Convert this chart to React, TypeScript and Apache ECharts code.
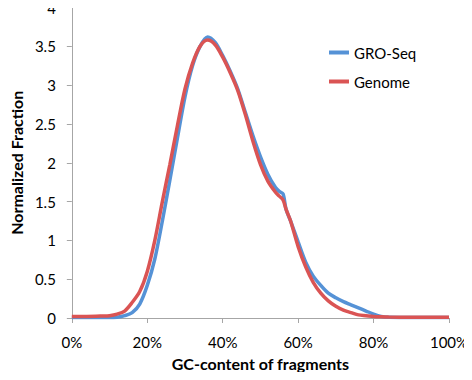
import React, { useEffect, useRef } from "react";
import * as echarts from "echarts";

const gcPct = [0, 4, 8, 10, 12, 14, 16, 18, 20, 22, 24, 26, 28, 30, 32, 34, 36, 38, 40, 42, 44, 46, 48, 50, 52, 54, 55, 56, 56.8, 58, 60, 62, 64, 66, 68, 70, 72, 74, 76, 78, 80, 82, 84, 90, 100];
const groSeq = [0.005, 0.005, 0.005, 0.005, 0.01, 0.03, 0.07, 0.18, 0.42, 0.76, 1.25, 1.78, 2.32, 2.85, 3.25, 3.5, 3.62, 3.55, 3.38, 3.18, 2.95, 2.65, 2.35, 2.08, 1.85, 1.68, 1.63, 1.6, 1.4, 1.25, 0.98, 0.72, 0.54, 0.42, 0.32, 0.26, 0.21, 0.17, 0.13, 0.09, 0.05, 0.02, 0.01, 0.005, 0.005];
const genome = [0.02, 0.02, 0.025, 0.03, 0.05, 0.09, 0.2, 0.34, 0.6, 1.0, 1.5, 1.98, 2.48, 2.95, 3.28, 3.5, 3.58, 3.52, 3.36, 3.16, 2.93, 2.62, 2.28, 1.98, 1.76, 1.62, 1.57, 1.52, 1.4, 1.25, 0.92, 0.66, 0.46, 0.32, 0.22, 0.15, 0.1, 0.07, 0.04, 0.03, 0.02, 0.015, 0.012, 0.01, 0.01];

const seriesNames = ["GRO-Seq", "Genome"];
const xTitle = "GC-content of fragments";
const yTitle = "Normalized Fraction";

const FONT = "Lato";

export default function App() {
  const ref = useRef<HTMLDivElement>(null);
  useEffect(() => {
    if (!ref.current) return;
    const chart = echarts.init(ref.current, undefined, { renderer: "svg" });
    const axisColor = "#a6a6a6";
    chart.setOption({
      animation: false,
      backgroundColor: "#ffffff",
      grid: { left: 69, right: 23, top: 6, bottom: 62, containLabel: false },
      legend: {
        orient: "vertical",
        left: 324,
        top: 40,
        itemGap: 14,
        itemWidth: 20,
        itemHeight: 4,
        icon: "rect",
        textStyle: { fontFamily: FONT, fontSize: 15, color: "#000" },
        data: seriesNames,
      },
      xAxis: {
        type: "value",
        min: 0,
        max: 100,
        interval: 20,
        name: xTitle,
        nameLocation: "middle",
        nameGap: 37,
        nameTextStyle: { fontFamily: FONT, fontSize: 16, fontWeight: "bold", color: "#000" },
        axisLine: { lineStyle: { color: axisColor, width: 1 } },
        axisTick: { show: true, length: 5, lineStyle: { color: axisColor } },
        axisLabel: { formatter: "{value}%", margin: 16, fontFamily: FONT, fontSize: 15, color: "#000" },
        splitLine: { show: false },
      },
      yAxis: {
        type: "value",
        min: 0,
        max: 4,
        interval: 0.5,
        name: yTitle,
        nameLocation: "middle",
        nameGap: 43,
        nameTextStyle: { fontFamily: FONT, fontSize: 16, fontWeight: "bold", color: "#000" },
        axisLine: { show: true, lineStyle: { color: axisColor, width: 1 } },
        axisTick: { show: true, length: 5, lineStyle: { color: axisColor } },
        axisLabel: { margin: 16, fontFamily: FONT, fontSize: 15, color: "#000" },
        splitLine: { show: false },
      },
      series: [
        {
          name: seriesNames[0],
          type: "line",
          data: gcPct.map((x, i) => [x, groSeq[i]]),
          symbol: "none",
          smooth: 0.3,
          lineStyle: { color: "#5592d6", width: 3.5 },
          itemStyle: { color: "#5592d6" },
        },
        {
          name: seriesNames[1],
          type: "line",
          data: gcPct.map((x, i) => [x, genome[i]]),
          symbol: "none",
          smooth: 0.3,
          lineStyle: { color: "#da5454", width: 3.5 },
          itemStyle: { color: "#da5454" },
        },
      ],
    });
    return () => chart.dispose();
  }, []);
  return <div ref={ref} style={{ width: 472, height: 380, margin: -8 }} />;
}
